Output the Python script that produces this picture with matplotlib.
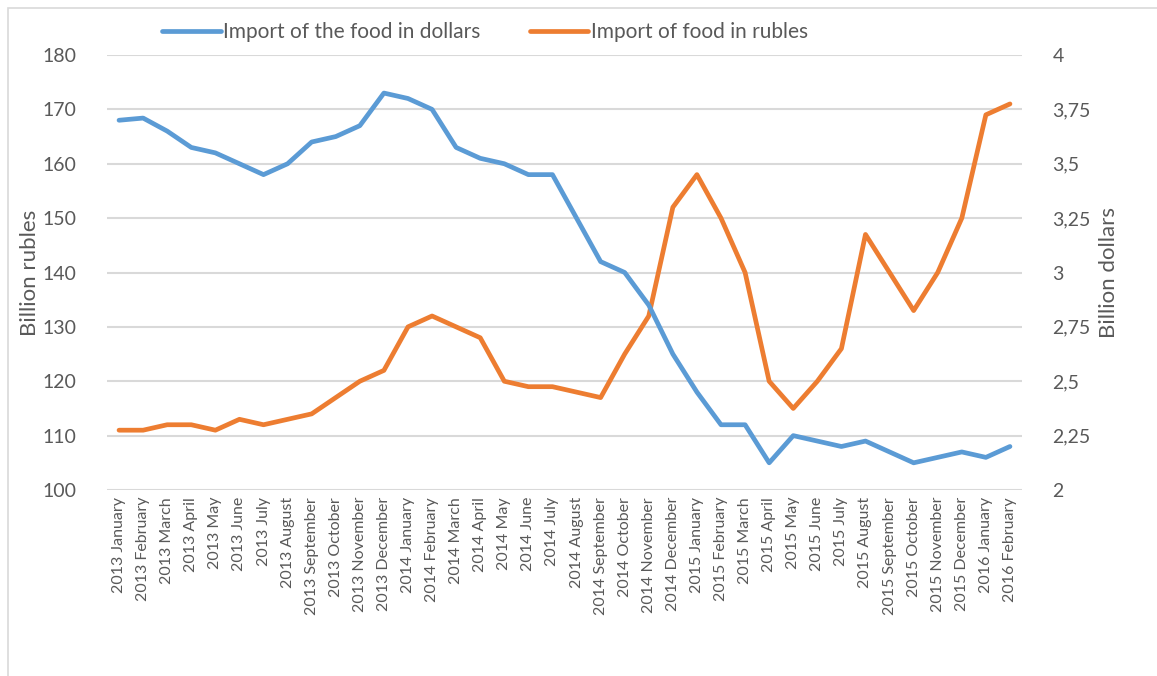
import matplotlib
matplotlib.use("Agg")
import matplotlib.pyplot as plt
from matplotlib.patches import Rectangle
from matplotlib.ticker import FixedLocator, FuncFormatter

plt.rcParams['font.family'] = ['Lato', 'DejaVu Sans']

months = [
    "2013 January", "2013 February", "2013 March", "2013 April", "2013 May",
    "2013 June", "2013 July", "2013 August", "2013 September", "2013 October",
    "2013 November", "2013 December", "2014 January", "2014 February",
    "2014 March", "2014 April", "2014 May", "2014 June", "2014 July",
    "2014 August", "2014 September", "2014 October", "2014 November",
    "2014 December", "2015 January", "2015 February", "2015 March",
    "2015 April", "2015 May", "2015 June", "2015 July", "2015 August",
    "2015 September", "2015 October", "2015 November", "2015 December",
    "2016 January", "2016 February",
]

# billion dollars (right axis)
food_usd = [
    3.70, 3.71, 3.65, 3.575, 3.55, 3.50, 3.45, 3.50, 3.60, 3.625,
    3.675, 3.825, 3.80, 3.75, 3.575, 3.525, 3.50, 3.45, 3.45, 3.25,
    3.05, 3.00, 2.85, 2.625, 2.45, 2.30, 2.30, 2.125, 2.25, 2.225,
    2.20, 2.225, 2.175, 2.125, 2.15, 2.175, 2.15, 2.20,
]

# billion rubles (left axis)
food_rub = [
    111, 111, 112, 112, 111, 113, 112, 113, 114, 117,
    120, 122, 130, 132, 130, 128, 120, 119, 119, 118,
    117, 125, 132, 152, 158, 150, 140, 120, 115, 120,
    126, 147, 140, 133, 140, 150, 169, 171,
]

rub_ticks = [100, 110, 120, 130, 140, 150, 160, 170, 180]
usd_ticks = [2, 2.25, 2.5, 2.75, 3, 3.25, 3.5, 3.75, 4]

TEXT = "#595959"
BLUE = "#5b9bd5"
ORANGE = "#ed7d31"
GRID = "#d9d9d9"

W, H = 1157, 676
fig = plt.figure(figsize=(W / 100, H / 100), dpi=100)

# light frame around the chart area
fig.patches.append(Rectangle((8 / W, -0.05), 1.2, 1 - 8 / H + 0.05,
                             transform=fig.transFigure, fill=False,
                             edgecolor="#d9d9d9", linewidth=1.2))

ax = fig.add_axes([107 / W, (H - 490) / H, (1022 - 107) / W, (490 - 55) / H])
ax2 = ax.twinx()

x = list(range(len(months)))
ax.plot(x, food_rub, color=ORANGE, lw=3.4, solid_capstyle="round",
        solid_joinstyle="round", zorder=3, label="Import of food in rubles")
ax2.plot(x, food_usd, color=BLUE, lw=3.4, solid_capstyle="round",
         solid_joinstyle="round", zorder=3, label="Import of the food in dollars")

ax.set_xlim(-0.5, len(months) - 0.5)
ax.set_ylim(100, 180)
ax2.set_ylim(2, 4)
ax.yaxis.set_major_locator(FixedLocator(rub_ticks))
ax2.yaxis.set_major_locator(FixedLocator(usd_ticks))
ax2.yaxis.set_major_formatter(FuncFormatter(lambda v, p: f"{v:g}".replace(".", ",")))

ax.grid(axis="y", color=GRID, lw=1.5)
ax.set_axisbelow(True)
for a in (ax, ax2):
    for s in a.spines.values():
        s.set_visible(False)

ax.set_xticks(x)
ax.set_xticklabels(months, rotation=90, fontsize=11.5, color=TEXT)
ax.tick_params(axis="x", length=0, pad=5)
ax.tick_params(axis="y", length=0, pad=22, labelsize=14, labelcolor=TEXT)
ax2.tick_params(axis="y", length=0, pad=22, labelsize=14, labelcolor=TEXT)

ax.set_ylabel("Billion rubles", fontsize=16, color=TEXT, labelpad=2)
ax2.set_ylabel("Billion dollars", fontsize=16, color=TEXT, labelpad=6)

h1, l1 = ax2.get_legend_handles_labels()
h2, l2 = ax.get_legend_handles_labels()
fig.legend(h1 + h2, l1 + l2, loc="center", bbox_to_anchor=(485 / W, 1 - 32 / H),
           ncol=2, frameon=False, fontsize=15, labelcolor=TEXT,
           handlelength=2.8, handletextpad=0.1, columnspacing=2.4)

fig.savefig("out.png", dpi=100)
